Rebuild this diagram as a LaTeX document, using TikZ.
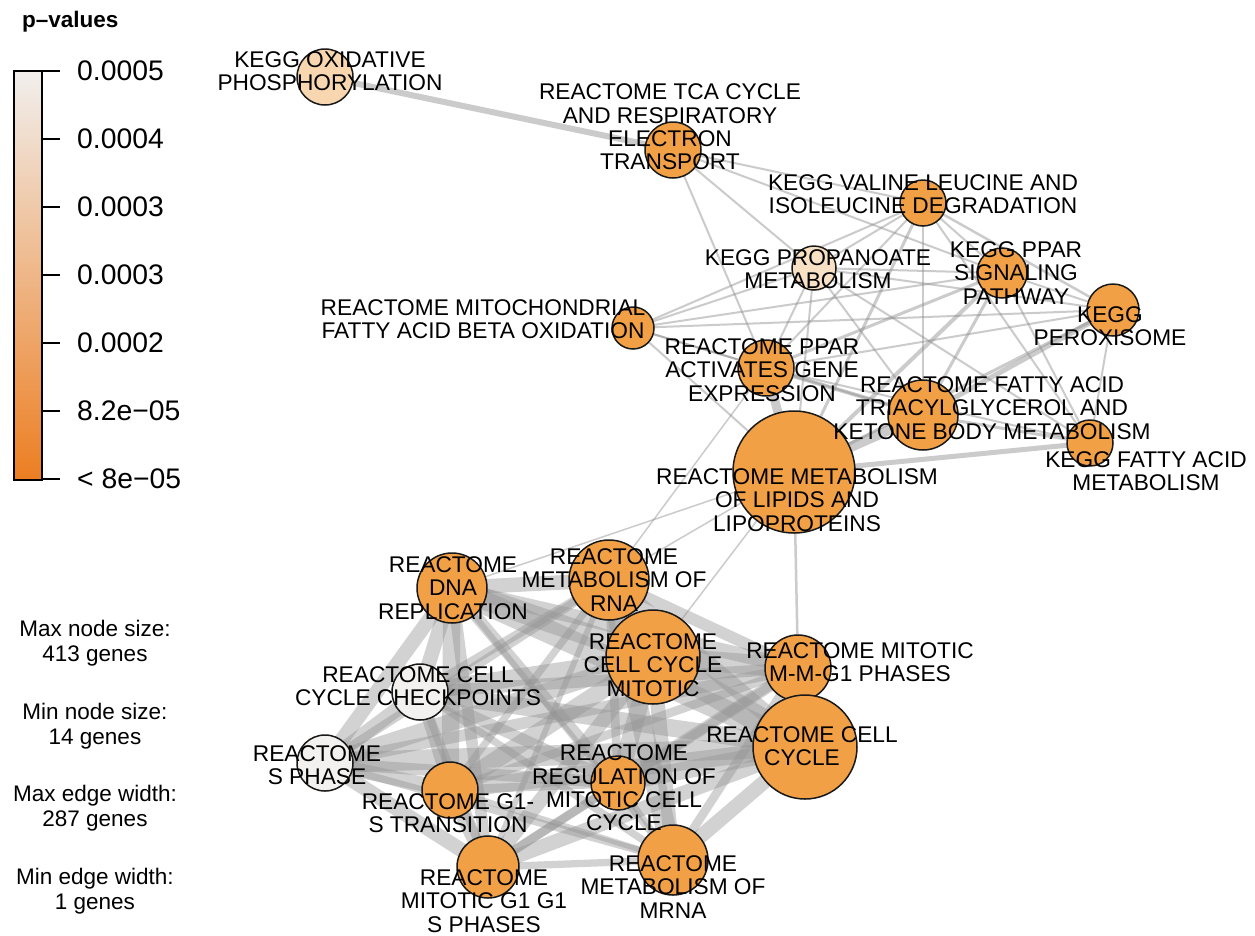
\documentclass[tikz,border=0pt]{standalone}
\usepackage{fontspec}
\setmainfont{Liberation Sans}
\usetikzlibrary{backgrounds}
\definecolor{hit}{RGB}{241,160,70}
\definecolor{peach}{RGB}{247,214,176}
\definecolor{peachlt}{RGB}{248,224,196}
\definecolor{pale}{RGB}{243,241,239}
\definecolor{barTop}{RGB}{241,239,237}
\definecolor{barMid}{RGB}{239,188,138}
\definecolor{barBot}{RGB}{236,126,34}
\newcommand{\lblfont}{\fontsize{22.7}{23.4}\selectfont}
\newcommand{\keyfont}{\fontsize{22.5}{25.5}\selectfont}
\newcommand{\tickfont}{\fontsize{28.3}{30}\selectfont}

\begin{document}
\begin{tikzpicture}[x=1pt,y=-1pt,
  term/.style={circle,draw=black!90,line width=1.5pt,inner sep=0pt,fill=hit},
  lbl/.style={align=center,font=\lblfont,inner sep=0pt},
  link/.style={draw=black!45,opacity=.45,line width=#1},
  band/.style={draw=black!42,opacity=.42,line width=1.45*#1}]
\useasboundingbox (0,0) rectangle (1255,935);
%legend
\node[anchor=base west,font=\keyfont\bfseries,inner sep=0pt] (ptitle) at (22,27) {p--values};
\shade[top color=barTop,middle color=barMid,bottom color=barBot] (14,71) rectangle (42,480);
\draw[line width=1.2pt] (14,71) rectangle (42,480);
\foreach \k/\v in {0/0.0005,1/0.0004,2/0.0003,3/0.0003,4/0.0002,5/8.2e−05,6/< 8e−05}{
  \draw[line width=1.2pt] (42,{71+68*\k}) -- (60,{71+68*\k});
  \node[anchor=west,font=\tickfont,inner sep=0pt] (tick\k) at (77,{71+68*\k}) {\v};
}
\node[lbl,font=\keyfont] (maxnode) at (95,643) {Max node size:\\413 genes};
\node[lbl,font=\keyfont] (minnode) at (95,726) {Min node size:\\14 genes};
\node[lbl,font=\keyfont] (maxedge) at (95,808) {Max edge width:\\287 genes};
\node[lbl,font=\keyfont] (minedge) at (95,891) {Min edge width:\\1 genes};

%metabolic terms
\node[term,fill=peach,minimum size=56] (oxphos) at (325,77) {};
\node[term,minimum size=56] (tca) at (673,150) {};
\node[term,minimum size=46] (valine) at (923,203) {};
\node[term,fill=peachlt,minimum size=44] (propan) at (814,268) {};
\node[term,minimum size=50] (pparsig) at (1002,273) {};
\node[term,minimum size=52] (perox) at (1113,310) {};
\node[term,minimum size=42] (mitofa) at (633,328) {};
\node[term,minimum size=56] (pparact) at (766,368) {};
\node[term,minimum size=70] (fatrig) at (923,415) {};
\node[term,minimum size=46] (keggfa) at (1090,443) {};
\node[term,minimum size=122] (lipids) at (794,472) {};
%cell cycle terms
\node[term,minimum size=70] (dna) at (452,588) {};
\node[term,minimum size=80] (rna) at (609,580) {};
\node[term,minimum size=94] (ccmit) at (653,657) {};
\node[term,minimum size=66] (mmg) at (798,668) {};
\node[term,minimum size=104] (cc) at (805,747) {};
\node[term,fill=pale,minimum size=56] (chk) at (420,692) {};
\node[term,fill=pale,minimum size=56] (sph) at (325,763) {};
\node[term,minimum size=56] (gones) at (450,790) {};
\node[term,minimum size=54] (reg) at (618,783) {};
\node[term,minimum size=70] (mrna) at (673,860) {};
\node[term,minimum size=62] (gonegone) at (488,867) {};

\begin{scope}[on background layer]
\fill[white] (0,0) rectangle (1255,935);
%shared genes
\foreach \a/\b/\w in {oxphos/tca/6,tca/valine/2,tca/pparsig/2,tca/propan/2,tca/pparact/2,
  valine/propan/2,valine/pparsig/2,valine/perox/2.5,valine/mitofa/2,valine/pparact/2,
  valine/fatrig/2,valine/keggfa/2,valine/lipids/3,
  propan/mitofa/2,propan/pparsig/2,propan/perox/2,propan/pparact/2,propan/fatrig/2,
  propan/keggfa/2,propan/lipids/2,
  pparsig/perox/2,pparsig/mitofa/2,pparsig/pparact/3,pparsig/fatrig/3,pparsig/keggfa/2,
  pparsig/lipids/4,
  perox/mitofa/2,perox/pparact/2,perox/fatrig/5,perox/keggfa/2,perox/lipids/3,
  mitofa/pparact/2,mitofa/lipids/2,mitofa/fatrig/2,
  pparact/lipids/9,pparact/fatrig/4,pparact/keggfa/2,
  fatrig/lipids/10,fatrig/keggfa/3,keggfa/lipids/5,
  lipids/dna/1.5,lipids/rna/1.5,lipids/ccmit/1.5,lipids/mmg/2.5,rna/pparact/1.5}
  \draw[link=\w] (\a.center) -- (\b.center);
\foreach \a/\b/\w in {dna/ccmit/15,dna/cc/16,dna/mmg/10,dna/rna/10,dna/chk/10,dna/sph/10,
  dna/gones/12,dna/reg/8,dna/gonegone/8,dna/mrna/4,
  rna/ccmit/12,rna/cc/12,rna/mmg/8,rna/mrna/14,rna/chk/6,rna/sph/6,rna/gones/5,
  rna/reg/6,rna/gonegone/4,
  ccmit/cc/18,ccmit/mmg/14,ccmit/chk/12,ccmit/sph/12,ccmit/gones/12,ccmit/reg/12,
  ccmit/mrna/10,ccmit/gonegone/10,
  mmg/cc/14,mmg/chk/8,mmg/sph/8,mmg/gones/6,mmg/reg/8,mmg/mrna/6,mmg/gonegone/6,
  cc/chk/12,cc/sph/14,cc/gones/12,cc/reg/12,cc/mrna/10,cc/gonegone/10,
  chk/sph/10,chk/gones/8,chk/reg/8,chk/mrna/5,chk/gonegone/6,
  sph/gones/10,sph/reg/8,sph/mrna/5,sph/gonegone/10,
  gones/reg/6,gones/mrna/4,gones/gonegone/10,
  reg/mrna/4,reg/gonegone/6,mrna/gonegone/5}
  \draw[band=\w] (\a.center) -- (\b.center);
\end{scope}

%term names
\node[lbl] (oxphos-l) at (330,71) {KEGG OXIDATIVE\\PHOSPHORYLATION};
\node[lbl] (tca-l) at (670,127) {REACTOME TCA CYCLE\\AND RESPIRATORY\\ELECTRON\\TRANSPORT};
\node[lbl] (valine-l) at (923,194) {KEGG VALINE LEUCINE AND\\ISOLEUCINE DEGRADATION};
\node[lbl] (propan-l) at (818,269) {KEGG PROPANOATE\\METABOLISM};
\node[lbl] (pparsig-l) at (1016,273) {KEGG PPAR\\SIGNALING\\PATHWAY};
\node[lbl] (perox-l) at (1110,326) {KEGG\\PEROXISOME};
\node[lbl] (mitofa-l) at (483,319) {REACTOME MITOCHONDRIAL\\FATTY ACID BETA OXIDATION};
\node[lbl] (pparact-l) at (762,370) {REACTOME PPAR\\ACTIVATES GENE\\EXPRESSION};
\node[lbl] (fatrig-l) at (992,408) {REACTOME FATTY ACID\\TRIACYLGLYCEROL AND\\KETONE BODY METABOLISM};
\node[lbl] (keggfa-l) at (1146,471) {KEGG FATTY ACID\\METABOLISM};
\node[lbl] (lipids-l) at (797,500) {REACTOME METABOLISM\\OF LIPIDS AND\\LIPOPROTEINS};
\node[lbl] (dna-l) at (453,588) {REACTOME\\DNA\\REPLICATION};
\node[lbl] (rna-l) at (614,580) {REACTOME\\METABOLISM OF\\RNA};
\node[lbl] (ccmit-l) at (653,665) {REACTOME\\CELL CYCLE\\MITOTIC};
\node[lbl] (mmg-l) at (860,662) {REACTOME MITOTIC\\M-M-G1 PHASES};
\node[lbl] (cc-l) at (802,746) {REACTOME CELL\\CYCLE};
\node[lbl] (chk-l) at (418,686) {REACTOME CELL\\CYCLE CHECKPOINTS};
\node[lbl] (sph-l) at (317,765) {REACTOME\\S PHASE};
\node[lbl] (gones-l) at (448,813) {REACTOME G1-\\S TRANSITION};
\node[lbl] (reg-l) at (624,788) {REACTOME\\REGULATION OF\\MITOTIC CELL\\CYCLE};
\node[lbl] (mrna-l) at (673,887) {REACTOME\\METABOLISM OF\\MRNA};
\node[lbl] (gonegone-l) at (484,901) {REACTOME\\MITOTIC G1 G1\\S PHASES};
\end{tikzpicture}
\end{document}
